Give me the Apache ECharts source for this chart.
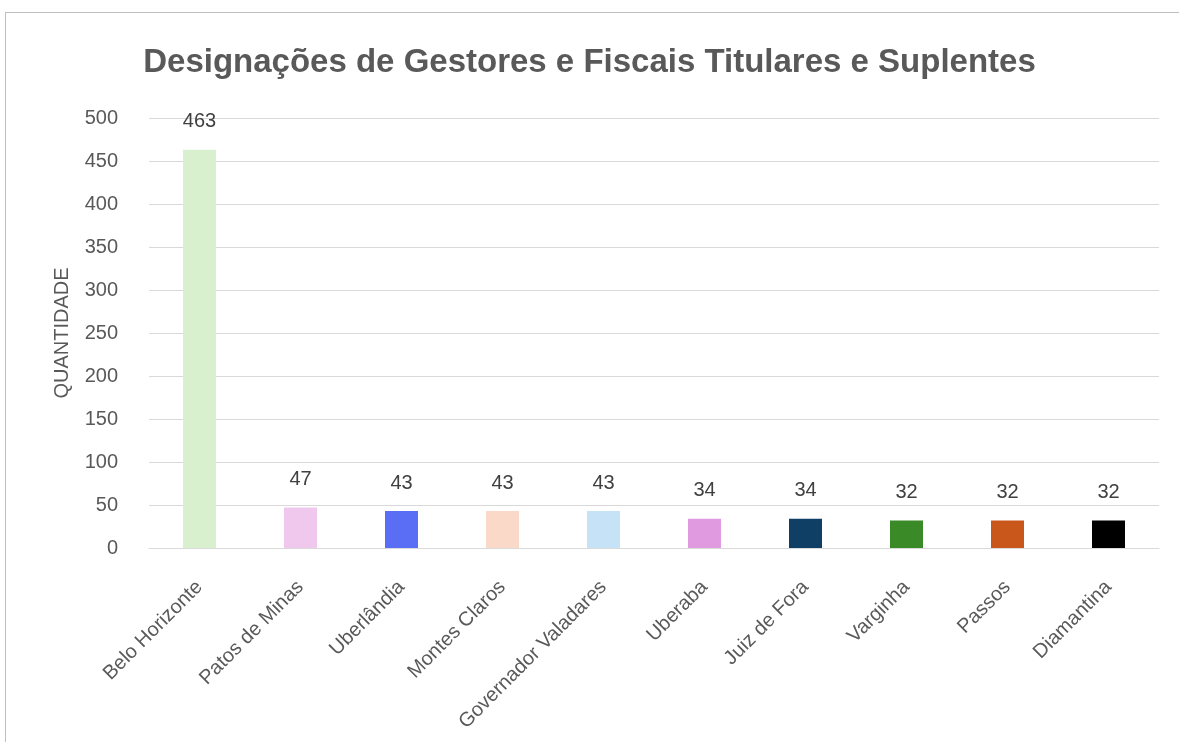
<!DOCTYPE html>
<html>
<head>
<meta charset="utf-8">
<script src="https://cdn.jsdelivr.net/npm/echarts@6/dist/echarts.min.js"></script>
<style>
	html, body { margin: 0; padding: 0; background: #fff; }
	#frame { position: absolute; left: 5px; top: 12px; width: 1174px; height: 730px; border-top: 1px solid #bfbfbf; border-left: 1px solid #bfbfbf; }
	#chart { width: 1179px; height: 742px; }
</style>
</head>
<body>
<div id="frame"></div>
<div id="chart"></div>
<script>
var cidades = ['Belo Horizonte', 'Patos de Minas', 'Uberlândia', 'Montes Claros', 'Governador Valadares', 'Uberaba', 'Juiz de Fora', 'Varginha', 'Passos', 'Diamantina'];
var quantidades = [463, 47, 43, 43, 43, 34, 34, 32, 32, 32];
var cores = ['#d9f0cf', '#f0c8ee', '#5a6ef5', '#fbd9c8', '#c6e2f6', '#e09ae0', '#103f66', '#3a8a27', '#c9561b', '#000000'];

var fonte = '"Liberation Sans Narrow", "Liberation Sans", Arial, sans-serif';
var chart = echarts.init(document.getElementById('chart'));

var dados = [];
for (var i = 0; i < quantidades.length; i++) {
	dados.push({ value: quantidades[i], itemStyle: { color: cores[i] } });
}

chart.setOption({
	animation: false,
	title: {
		text: 'Designações de Gestores e Fiscais Titulares e Suplentes',
		left: 'center',
		top: 41,
		textStyle: { fontFamily: fonte, fontSize: 33, fontWeight: 'bold', color: '#595959' }
	},
	grid: { left: 149, right: 20, top: 118, bottom: 194 },
	xAxis: {
		type: 'category',
		data: cidades,
		axisLine: { lineStyle: { color: '#d9d9d9' } },
		axisTick: { show: false },
		axisLabel: { rotate: 45, interval: 0, margin: 36, fontFamily: fonte, fontSize: 20, color: '#595959' }
	},
	yAxis: {
		type: 'value',
		min: 0,
		max: 500,
		interval: 50,
		name: 'QUANTIDADE',
		nameLocation: 'middle',
		nameGap: 77,
		nameTextStyle: { fontFamily: fonte, fontSize: 20, color: '#595959' },
		axisLabel: { margin: 31, fontFamily: fonte, fontSize: 20, color: '#595959' },
		splitLine: { lineStyle: { color: '#d9d9d9' } }
	},
	series: [{
		type: 'bar',
		data: dados,
		barWidth: 33,
		label: {
			show: true,
			position: 'top',
			distance: 18,
			fontFamily: fonte,
			fontSize: 20,
			color: '#404040'
		}
	}]
});
</script>
</body>
</html>
